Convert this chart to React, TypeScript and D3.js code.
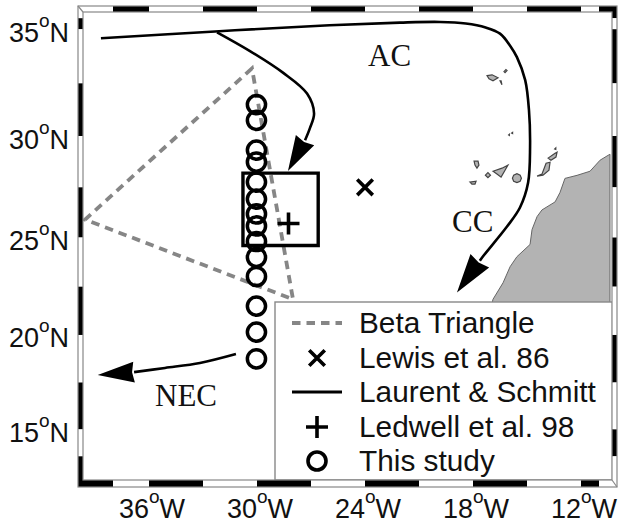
import React from 'react';
import * as d3 from 'd3';

type LonLat = [number, number];

const lonLabels = [-36, -30, -24, -18, -12];
const latLabels = [35, 30, 25, 20, 15];
const lonBreaks = [-38, -36, -33, -30, -27, -24, -21, -18, -15, -12, -11];
const latBreaks = [35.5, 35, 32.5, 30, 27.5, 25, 22.5, 20, 17.5, 15, 13.55];

const betaTriangle: LonLat[] = [[-30.28, 33.2], [-39.55, 25.9], [-28.0, 21.85]];
const thisStudyLats = [31.5, 30.75, 29.32, 28.74, 27.76, 26.92, 26.18, 25.58, 24.8, 24.0, 23.02, 21.5, 20.15, 18.75];
const thisStudyLon = -30.03;
const lewis: LonLat = [-24, 27.5];
const ledwell: LonLat = [-28.25, 25.7];
const laurentBox: LonLat[] = [[-30.78, 28.2], [-26.6, 28.2], [-26.6, 24.6], [-30.78, 24.6]];

const azoresCurrent: LonLat[] = [
  [-38.67, 34.59], [-32.33, 34.9], [-26.5, 35.16], [-22.06, 35.3], [-19.83, 35.33], [-18.4, 35.26], [-17.3, 35.08],
  [-16.5, 34.8], [-15.94, 34.25], [-15.56, 33.72], [-15.1, 32.65], [-14.89, 31.23], [-14.83, 29.47], [-14.94, 27.72],
  [-15.39, 26.5], [-16.11, 25.55], [-17.44, 24.05], [-17.62, 23.82],
];
const canaryTip: LonLat = [-18.89, 22.2];
const azoresBranch: LonLat[] = [
  [-32.22, 34.86], [-30.39, 34.0], [-28.56, 33.0], [-27.22, 32.02], [-26.83, 31.08], [-27.06, 30.38], [-27.33, 29.8],
];
const branchTip: LonLat = [-28.28, 28.3];
const necCurrent: LonLat[] = [[-31.17, 19.0], [-33.17, 18.53], [-35.11, 18.27], [-36.83, 18.05]];
const necTip: LonLat = [-38.85, 17.9];

const africa: LonLat[] = [
  [-10.39, 29.12], [-10.94, 28.83], [-11.5, 28.29], [-12.22, 28.09], [-12.89, 27.94], [-13.17, 27.24],
  [-13.44, 26.78], [-14.17, 26.38], [-14.44, 26.05], [-14.72, 25.4], [-14.83, 24.65], [-15.56, 24.03],
  [-15.94, 23.52], [-16.33, 22.7], [-16.89, 21.85], [-17.0, 21.4], [-10.39, 21.4],
];
const islands: LonLat[][] = [
  [[-17.22, 32.86], [-16.94, 32.9], [-16.61, 32.76], [-16.89, 32.62], [-17.11, 32.71]],
  [[-16.28, 33.05], [-16.17, 33.14], [-16.11, 33.1], [-16.22, 33.0]],
  [[-16.5, 32.62], [-16.39, 32.43], [-16.44, 32.62]],
  [[-16.02, 30.05], [-15.98, 30.08], [-15.98, 30.03]],
  [[-15.85, 30.14], [-15.8, 30.17], [-15.8, 30.12]],
  [[-17.94, 28.78], [-17.72, 28.78], [-17.67, 28.59], [-17.78, 28.44], [-17.89, 28.59]],
  [[-16.89, 28.29], [-16.39, 28.44], [-16.06, 28.59], [-16.22, 28.34], [-16.44, 28.0], [-16.67, 28.15]],
  [[-17.31, 28.1], [-17.17, 28.22], [-17.03, 28.1], [-17.17, 27.98]],
  [[-18.17, 27.76], [-17.83, 27.8], [-17.89, 27.66], [-18.06, 27.66]],
  [[-15.81, 27.95], [-15.74, 28.1], [-15.56, 28.17], [-15.38, 28.1], [-15.31, 27.95], [-15.38, 27.8], [-15.56, 27.73], [-15.74, 27.8]],
  [[-14.44, 28.05], [-14.17, 28.15], [-13.94, 28.68], [-13.72, 28.73], [-13.78, 28.34], [-14.11, 28.1]],
  [[-13.83, 28.93], [-13.44, 29.17], [-13.33, 29.22], [-13.39, 28.98], [-13.67, 28.83]],
  [[-13.46, 29.37], [-13.4, 29.42], [-13.4, 29.35]],
];

const legendLabels = ['Beta Triangle', 'Lewis et al. 86', 'Laurent & Schmitt', 'Ledwell et al. 98', 'This study'];

const project = d3.geoMercator()
  .scale((18 * 180) / Math.PI)
  .center([-30, 30])
  .translate([257, 136]);
const px = (p: LonLat) => project(p) as [number, number];
const xOf = (lon: number) => px([lon, 30])[0];
const yOf = (lat: number) => px([-30, lat])[1];

const smooth = d3.line().curve(d3.curveCatmullRom.alpha(0.5));
const straight = d3.line();
const mapPath = (pts: LonLat[], gen = straight) => gen(pts.map(px)) as string;

const frame = { left: 78, inner: 83, top: 6, innerTop: 12, right: 617, innerRight: 612, bottom: 487, innerBottom: 480 };

// filled arrow head, GMT style, base centre to tip
const arrowHead = (from: LonLat, tip: LonLat, halfWidth = 10) => {
  const [x0, y0] = px(from);
  const [x1, y1] = px(tip);
  const len = Math.hypot(x1 - x0, y1 - y0);
  const ux = (x1 - x0) / len;
  const uy = (y1 - y0) / len;
  const pts: [number, number][] = [
    [x1, y1],
    [x0 - uy * halfWidth, y0 + ux * halfWidth],
    [x0 + ux * 2, y0 + uy * 2],
    [x0 + uy * halfWidth, y0 - ux * halfWidth],
  ];
  return straight(pts) + 'Z';
};

const Band = ({ breaks, horizontal, fixed, thick, startBlack }: any) => (
  <g>
    {breaks.slice(0, -1).map((b: number, i: number) => {
      const black = i % 2 === 0 ? startBlack : !startBlack;
      const size = breaks[i + 1] - b;
      return (
        <rect
          key={i}
          x={horizontal ? b : fixed}
          y={horizontal ? fixed : b}
          width={horizontal ? size : thick}
          height={horizontal ? thick : size}
          fill={black ? '#000' : '#fff'}
        />
      );
    })}
  </g>
);

const Cross = ({ x, y, r, rotate = 0 }: any) => (
  <path
    d={`M${-r},0H${r}M0,${-r}V${r}`}
    transform={`translate(${x},${y}) rotate(${rotate})`}
    stroke="#000"
    strokeWidth={3.6}
    fill="none"
  />
);

const sans = '"Liberation Sans", Arial, sans-serif';
const serif = '"Liberation Serif", "Times New Roman", serif';
const textColor = '#111';

const TickLabel = ({ x, y, value, hemi, anchor }: any) => (
  <text x={x} y={y} textAnchor={anchor} fontFamily={sans} fontSize={27} fill={textColor}>
    {value}
    <tspan dy={-15} fontSize={19}>o</tspan>
    <tspan dy={15}>{hemi}</tspan>
  </text>
);

const App = () => {
  const { left, inner, top, innerTop, right, innerRight, bottom, innerBottom } = frame;
  const xBreaks = [left, ...lonBreaks.map(xOf), right];
  const yBreaks = [top, ...latBreaks.map(yOf), bottom];
  const legendY = [323, 358, 392, 427, 461];
  const legendBase = [333, 368, 402, 437, 471];
  const legendX = 317;

  return (
    <svg width={621} height={523} style={{ position: 'absolute', left: 0, top: 0, background: '#fff' }}>
      {/* land */}
      <path d={mapPath(africa) + 'Z'} fill="#b3b3b3" stroke="#666" strokeWidth={1} />
      {islands.map((ring, i) => (
        <path key={i} d={mapPath(ring) + 'Z'} fill="#b3b3b3" stroke="#444" strokeWidth={1.2} />
      ))}

      {/* beta triangle */}
      <path
        d={mapPath(betaTriangle) + 'Z'}
        fill="none"
        stroke="#868686"
        strokeWidth={3.8}
        strokeDasharray="8.5 6"
      />

      {/* currents */}
      <path d={mapPath(azoresCurrent, smooth)} fill="none" stroke="#000" strokeWidth={2.6} />
      <path d={mapPath(azoresBranch, smooth)} fill="none" stroke="#000" strokeWidth={2.6} />
      <path d={mapPath(necCurrent, smooth)} fill="none" stroke="#000" strokeWidth={2.6} />
      <path d={arrowHead(azoresCurrent[azoresCurrent.length - 1], canaryTip, 11.5)} fill="#000" />
      <path d={arrowHead(azoresBranch[azoresBranch.length - 1], branchTip, 10.5)} fill="#000" />
      <path d={arrowHead(necCurrent[necCurrent.length - 1], necTip, 10.5)} fill="#000" />

      {/* Laurent & Schmitt box */}
      <path d={mapPath(laurentBox) + 'Z'} fill="none" stroke="#000" strokeWidth={3.4} />

      {thisStudyLats.map((lat, i) => {
        const [x, y] = px([thisStudyLon, lat]);
        return <circle key={i} cx={x} cy={y} r={9.1} fill="none" stroke="#000" strokeWidth={3.5} />;
      })}

      <Cross x={px(ledwell)[0]} y={px(ledwell)[1]} r={11} />
      <Cross x={px(lewis)[0]} y={px(lewis)[1]} r={11} rotate={45} />

      {/* current names */}
      <g fontFamily={serif} fontSize={31} fill={textColor}>
        <text x={368} y={66}>AC</text>
        <text x={452} y={232}>CC</text>
        <text x={155} y={406}>NEC</text>
      </g>

      {/* legend */}
      <rect x={275} y={302} width={337.5} height={178} fill="#fff" stroke="#888" strokeWidth={1.4} />
      <line x1={292} x2={342} y1={legendY[0]} y2={legendY[0]} stroke="#868686" strokeWidth={3.8} strokeDasharray="8.5 6" />
      <Cross x={legendX} y={legendY[1]} r={11} rotate={45} />
      <line x1={292} x2={342} y1={legendY[2]} y2={legendY[2]} stroke="#000" strokeWidth={3.2} />
      <Cross x={legendX} y={legendY[3]} r={11} />
      <circle cx={legendX} cy={legendY[4]} r={9} fill="none" stroke="#000" strokeWidth={3.6} />
      {legendLabels.map((label, i) => (
        <text key={label} x={359} y={legendBase[i]} fontFamily={sans} fontSize={29.8} fill={textColor}>{label}</text>
      ))}

      {/* checkered frame */}
      <Band breaks={xBreaks} horizontal fixed={top} thick={innerTop - top} startBlack={false} />
      <Band breaks={xBreaks} horizontal fixed={innerBottom} thick={bottom - innerBottom} startBlack={true} />
      <Band breaks={yBreaks} fixed={left} thick={inner - left} startBlack={false} />
      <Band breaks={yBreaks} fixed={innerRight} thick={right - innerRight} startBlack={true} />
      <rect x={left} y={top} width={right - left} height={bottom - top} fill="none" stroke="#888" strokeWidth={1.2} />
      <rect x={inner} y={innerTop} width={innerRight - inner} height={innerBottom - innerTop} fill="none" stroke="#888" strokeWidth={1.2} />
      <line x1={left} y1={top} x2={inner} y2={innerTop} stroke="#888" strokeWidth={1.2} />
      <line x1={innerRight} y1={innerBottom} x2={right} y2={bottom} stroke="#888" strokeWidth={1.2} />

      {/* tick labels */}
      {latLabels.map(lat => (
        <TickLabel key={lat} x={69} y={yOf(lat) + 12.5} value={lat} hemi="N" anchor="end" />
      ))}
      {lonLabels.map(lon => (
        <TickLabel key={lon} x={xOf(lon) + 3} y={518} value={Math.abs(lon)} hemi="W" anchor="middle" />
      ))}
    </svg>
  );
};

export default App;
